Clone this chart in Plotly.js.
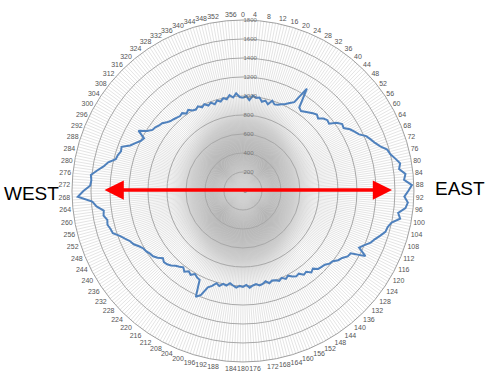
<!DOCTYPE html>
<html>
<head>
<meta charset="utf-8">
<script src="https://cdn.plot.ly/plotly-3.0.1.min.js"></script>
<style>html,body{margin:0;padding:0;background:#fff;}#chart{width:487px;height:381px;}</style>
</head>
<body>
<div id="chart"></div>
<script>
// Bearing (degrees) of each reading
var bearings = [0,2,4,6,8,10,12,14,16,18,20,22,24,26,28,30,32,34,36,38,40,42,44,46,48,50,52,54,56,58,
  60,62,64,66,68,70,72,74,76,78,80,82,84,86,88,90,92,94,96,98,100,102,104,106,108,110,112,114,116,118,
  120,122,124,126,128,130,132,134,136,138,140,142,144,146,148,150,152,154,156,158,160,162,164,166,168,170,172,174,176,178,
  180,182,184,186,188,190,192,194,196,198,200,202,204,206,208,210,212,214,216,218,220,222,224,226,228,230,232,234,236,238,
  240,242,244,246,248,250,252,254,256,258,260,262,264,266,268,270,272,274,276,278,280,282,284,286,288,290,292,294,296,298,
  300,302,304,306,308,310,312,314,316,318,320,322,324,326,328,330,332,334,336,338,340,342,344,346,348,350,352,354,356,358,360];
// Radial reading at each bearing
var readings = [980,1000,960,1010,990,1000,960,980,950,1000,970,980,1000,1020,1050,1080,1270,1060,1040,1060,
  1080,1100,1120,1100,1140,1160,1150,1220,1260,1250,
  1300,1330,1360,1420,1450,1480,1520,1580,1600,1640,1680,1660,1720,1700,1780,1740,1700,1740,1720,1650,
  1680,1600,1570,1560,1520,1480,1450,1400,1360,1460,
  1310,1300,1260,1240,1200,1190,1160,1150,1140,1100,1120,1080,1090,1050,1060,1040,1010,1030,1000,1020,
  1000,990,1010,980,1000,1010,990,1000,1020,990,
  1010,1000,1020,1000,980,1010,1000,1030,1010,1050,1080,1180,1220,1040,1030,1010,1040,1020,1050,1020,
  1040,1060,1090,1110,1120,1100,1140,1170,1180,1200,
  1210,1240,1280,1300,1340,1380,1440,1450,1470,1460,1490,1480,1550,1590,1740,1680,1610,1600,1610,1550,
  1490,1450,1380,1370,1350,1360,1280,1240,1200,1180,
  1270,1190,1150,1140,1120,1110,1080,1060,1050,1040,1030,1040,1010,1030,1000,990,1010,980,1000,970,
  990,960,990,970,1000,980,1020,990,1030,990,980];
// Angular tick labels (every 4 degrees), radial ticks
var angleTicks = [];
var angleTickText = [];
for (var a = 0; a < 360; a++) { angleTicks.push(a); angleTickText.push(a % 4 === 0 ? String(a) : ''); }
var radialTicks = [0,200,400,600,800,1000,1200,1400,1600,1800];
var westLabel = 'WEST', eastLabel = 'EAST';

var blob = 'data:image/svg+xml;utf8,' + encodeURIComponent(
  '<svg xmlns="http://www.w3.org/2000/svg" width="200" height="200">' +
  '<defs><radialGradient id="g" cx="50%" cy="50%" r="50%">' +
  '<stop offset="0%" stop-color="#747474" stop-opacity="1"/>' +
  '<stop offset="40%" stop-color="#7e7e7e" stop-opacity="0.9"/>' +
  '<stop offset="70%" stop-color="#a0a0a0" stop-opacity="0.55"/>' +
  '<stop offset="100%" stop-color="#d8d8d8" stop-opacity="0"/>' +
  '</radialGradient></defs>' +
  '<ellipse cx="100" cy="100" rx="100" ry="100" fill="url(#g)"/></svg>');

var trace = {
  type: 'scatterpolar',
  mode: 'lines',
  theta: bearings,
  r: readings,
  line: {color: '#4f81bd', width: 2},
  hoverinfo: 'skip'
};

var layout = {
  width: 487, height: 381,
  margin: {l: 0, r: 0, t: 0, b: 0},
  paper_bgcolor: '#ffffff',
  showlegend: false,
  font: {family: 'Liberation Sans, Arial, sans-serif', color: '#555'},
  polar: {
    domain: {x: [0.1478, 0.850], y: [0.0499, 0.9475]},
    bgcolor: 'rgba(0,0,0,0)',
    angularaxis: {
      rotation: 90, direction: 'clockwise',
      tickmode: 'array', tickvals: angleTicks, ticktext: angleTickText,
      showgrid: true, gridcolor: '#d2d2d2', gridwidth: 0.6,
      showline: true, linecolor: '#a0a0a0', linewidth: 1,
      ticks: '', tickfont: {size: 7, color: '#555'}
    },
    radialaxis: {
      range: [0, 1800], tickmode: 'array', tickvals: radialTicks,
      angle: 90, tickangle: 90,
      showgrid: true, gridcolor: '#a8a8a8', gridwidth: 1,
      showline: false, ticks: '',
      tickfont: {size: 6, color: '#777'}
    }
  },
  images: [{
    source: blob, xref: 'paper', yref: 'paper',
    x: 0.499, y: 0.50, sizex: 0.30, sizey: 0.52,
    xanchor: 'center', yanchor: 'middle', sizing: 'stretch', layer: 'below'
  }],
  annotations: [
    {xref: 'paper', yref: 'paper', x: 0.805, y: 0.501, axref: 'pixel', ayref: 'pixel',
     ax: -289, ay: 0, text: '', showarrow: true, arrowhead: 2, arrowside: 'end+start',
     arrowsize: 1.1, arrowwidth: 3.5, arrowcolor: '#ff0000'},
    {xref: 'paper', yref: 'paper', x: 0.064, y: 0.492, xanchor: 'center', yanchor: 'middle',
     text: westLabel, showarrow: false,
     font: {size: 19, color: '#000', family: 'Liberation Sans, Arial, sans-serif'}},
    {xref: 'paper', yref: 'paper', x: 0.944, y: 0.505, xanchor: 'center', yanchor: 'middle',
     text: eastLabel, showarrow: false,
     font: {size: 19, color: '#000', family: 'Liberation Sans, Arial, sans-serif'}}
  ]
};

Plotly.newPlot('chart', [trace], layout, {displayModeBar: false, staticPlot: true});
</script>
</body>
</html>
